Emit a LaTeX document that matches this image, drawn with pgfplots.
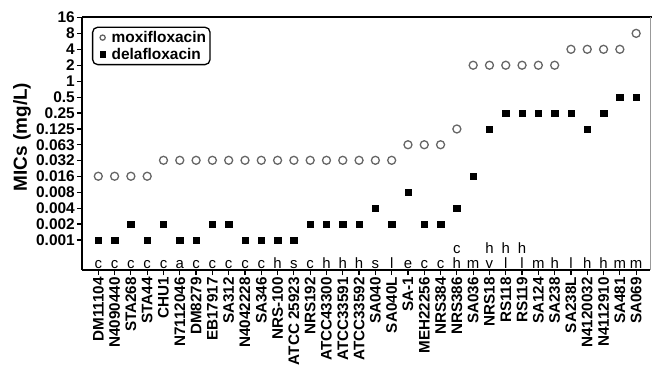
\documentclass[border=0pt]{standalone}
\usepackage{fontspec}
\setmainfont{Liberation Sans}
\usepackage{pgfplots}
\pgfplotsset{compat=1.18}
\definecolor{moxgray}{HTML}{666666}
\begin{document}
\begin{tikzpicture}
\begin{axis}[
  scale only axis, width=568bp, height=253bp,
  xmin=0, xmax=34.85,
  ymode=log, log basis y=2,
  ymin=0.000271, ymax=16.3,
  clip=false,
  axis x line*=bottom, axis y line*=left,
  axis line style={line width=1.6bp, black, -},
  tick style={line width=1.2bp, black},
  tick align=outside, major tick length=5bp,
  yminorticks=false, xminorticks=false,
  xtick={1,...,34},
  xticklabels={DM11104,N4090440,STA268,STA44,CHU1,N7112046,DM8279,EB17917,SA312,N4042228,SA346,NRS-100,ATCC 25923,NRS192,ATCC43300,ATCC33591,ATCC33592,SA040,SA040L,SA-1,MEH22256,NRS384,NRS386,SA036,NRS18,RS118,RS119,SA124,SA238,SA238L,N4120032,N4112910,SA481,SA069},
  xticklabel style={rotate=90, anchor=east, inner sep=2bp, font=\fontsize{15.3}{15}\selectfont\bfseries},
  ytick={0.001,0.002,0.004,0.008,0.016,0.032,0.063,0.125,0.25,0.5,1,2,4,8,16},
  yticklabels={0.001,0.002,0.004,0.008,0.016,0.032,0.063,0.125,0.25,0.5,1,2,4,8,16},
  yticklabel style={inner sep=2bp, font=\fontsize{15.5}{15}\selectfont\bfseries},
  ylabel={MICs (mg/L)},
  every axis y label/.style={at={(rel axis cs:-0.1056,0.526)}, rotate=90, anchor=center, font=\fontsize{19}{19}\selectfont\bfseries},
  legend style={at={(0.0176,0.962)}, anchor=north west, draw=black, line width=1.3bp, rounded corners=5bp,
    font=\fontsize{15.5}{16}\selectfont\bfseries, inner xsep=2bp, inner ysep=2bp, row sep=0bp},
  legend cell align=left,
  legend image code/.code={\path[draw=none, fill=none] (0bp,-3bp) rectangle (15bp,3bp);
    \draw[#1, sharp corners, mark size=2.6bp] plot coordinates {(8bp,0bp)};},
]
\addplot[only marks, mark=o, mark size=4bp, draw=moxgray, line width=1.3bp] coordinates {
(1,0.016) (2,0.016) (3,0.016) (4,0.016)
(5,0.032) (6,0.032) (7,0.032) (8,0.032) (9,0.032) (10,0.032) (11,0.032) (12,0.032) (13,0.032) (14,0.032) (15,0.032) (16,0.032) (17,0.032) (18,0.032) (19,0.032)
(20,0.063) (21,0.063) (22,0.063)
(23,0.125)
(24,2) (25,2) (26,2) (27,2) (28,2) (29,2)
(30,4) (31,4) (32,4) (33,4)
(34,8)
};
\addlegendentry{moxifloxacin}
\addplot[only marks, mark=square*, mark size=3.2bp, fill=black, draw=black, line width=0.4bp] coordinates {
(1,0.001) (2,0.001) (3,0.002) (4,0.001) (5,0.002) (6,0.001) (7,0.001) (8,0.002) (9,0.002) (10,0.001)
(11,0.001) (12,0.001) (13,0.001) (14,0.002) (15,0.002) (16,0.002) (17,0.002) (18,0.004) (19,0.002) (20,0.008)
(21,0.002) (22,0.002) (23,0.004) (24,0.016) (25,0.125) (26,0.25) (27,0.25) (28,0.25) (29,0.25) (30,0.25)
(31,0.125) (32,0.25) (33,0.5) (34,0.5)
};
\addlegendentry{delafloxacin}
\draw[line width=1.6bp, black] (rel axis cs:0,1) -- ([xshift=2bp]rel axis cs:1,1);
\draw[line width=0.8bp, gray!80] (rel axis cs:1,0) -- (rel axis cs:1,1);
% strain letters
\begin{scope}[every node/.style={anchor=base, inner sep=0pt, yshift=2bp, font=\fontsize{15}{15}\selectfont}]
\node at (axis cs:1,0.000271) {c};
\node at (axis cs:2,0.000271) {c};
\node at (axis cs:3,0.000271) {c};
\node at (axis cs:4,0.000271) {c};
\node at (axis cs:5,0.000271) {c};
\node at (axis cs:6,0.000271) {a};
\node at (axis cs:7,0.000271) {c};
\node at (axis cs:8,0.000271) {c};
\node at (axis cs:9,0.000271) {c};
\node at (axis cs:10,0.000271) {c};
\node at (axis cs:11,0.000271) {c};
\node at (axis cs:12,0.000271) {h};
\node at (axis cs:13,0.000271) {s};
\node at (axis cs:14,0.000271) {c};
\node at (axis cs:15,0.000271) {h};
\node at (axis cs:16,0.000271) {h};
\node at (axis cs:17,0.000271) {h};
\node at (axis cs:18,0.000271) {s};
\node at (axis cs:19,0.000271) {l};
\node at (axis cs:20,0.000271) {e};
\node at (axis cs:21,0.000271) {c};
\node at (axis cs:22,0.000271) {c};
\node at (axis cs:23,0.000271) {h};
\node at (axis cs:24,0.000271) {m};
\node at (axis cs:25,0.000271) {v};
\node at (axis cs:26,0.000271) {l};
\node at (axis cs:27,0.000271) {l};
\node at (axis cs:28,0.000271) {m};
\node at (axis cs:29,0.000271) {h};
\node at (axis cs:30,0.000271) {l};
\node at (axis cs:31,0.000271) {h};
\node at (axis cs:32,0.000271) {h};
\node at (axis cs:33,0.000271) {m};
\node at (axis cs:34,0.000271) {m};
\node[yshift=15bp] at (axis cs:23,0.000271) {c};
\node[yshift=15bp] at (axis cs:25,0.000271) {h};
\node[yshift=15bp] at (axis cs:26,0.000271) {h};
\node[yshift=15bp] at (axis cs:27,0.000271) {h};
\end{scope}
\end{axis}
\pgfresetboundingbox
\path[use as bounding box] ([xshift=-82bp,yshift=-100bp]current axis.south west) rectangle ([xshift=2bp,yshift=17bp]current axis.north east);
\end{tikzpicture}
\end{document}
